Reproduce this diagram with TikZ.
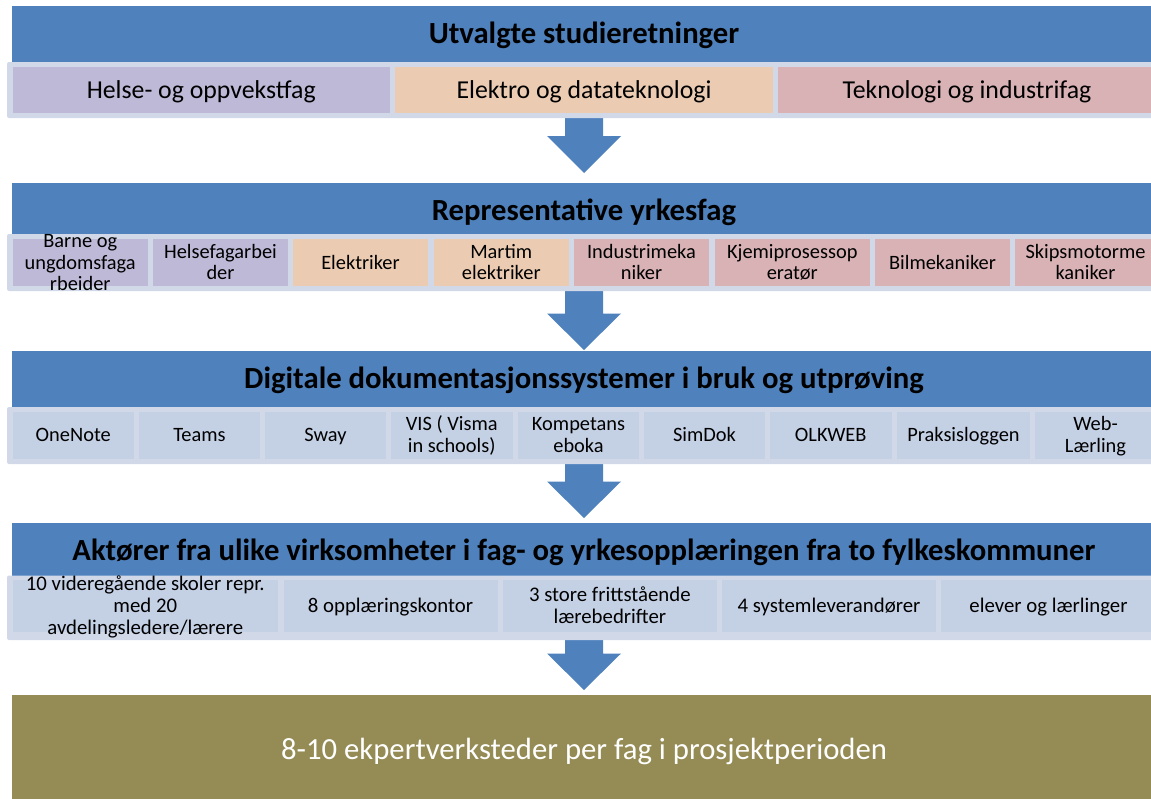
\documentclass[tikz,border=0pt]{standalone}
\usepackage{fontspec}
\setmainfont{Carlito}
\usetikzlibrary{calc}

\definecolor{hdrblue}{HTML}{4F81BD}
\definecolor{stripbg}{HTML}{D1D9E9}
\definecolor{lav}{HTML}{BDB9D7}
\definecolor{peach}{HTML}{EBCCB3}
\definecolor{rose}{HTML}{D8B2B5}
\definecolor{cellblue}{HTML}{C4D0E4}
\definecolor{olive}{HTML}{958B54}

\tikzset{
  blockbase/.style={draw=none, inner sep=0pt, outer sep=0pt},
  header/.style={blockbase, fill=hdrblue},
  strip/.style={blockbase, fill=stripbg, rounded corners=2pt},
  cell/.style={blockbase},
  htext/.style={anchor=base, inner sep=0pt, text=black,
    font=\fontsize{30.7}{36}\selectfont\bfseries},
}

% rectangle node given by its corners: style, name, x1, y1, x2, y2
\newcommand\rectnode[6]{%
  \node[#1, minimum width={(#5-#3)*1pt}, minimum height={(#6-#4)*1pt}]
    (#2) at ({(#3+#5)/2},{(#4+#6)/2}) {};}

% centred label in a cell: node, lines, font size, line skip, text
\newcommand\putlabel[5]{%
  \node[anchor=base, inner sep=0pt, text=black, font=\fontsize{#3}{#4}\selectfont,
        yshift={-(0.322*#3-(#2-1)*#4/2)*1pt}]
    at (#1.center) {\begin{tabular}[t]{@{}c@{}}#5\end{tabular}};}

% block arrow from a strip down to the next block: strip, next block, gap, head length
\newcommand\flowarrow[4]{%
  \coordinate (tip-#2) at ($(#2.north)+(0,-#3)$);
  \coordinate (top-#2) at ($(#2.north |- #1.south)+(0,-4)$);
  \fill[hdrblue] ($(top-#2)+(-19,0)$) -- ($(top-#2)+(19,0)$)
    -- ($(tip-#2)+(19,-#4)$) -- ($(tip-#2)+(37,-#4)$) -- (tip-#2)
    -- ($(tip-#2)+(-37,-#4)$) -- ($(tip-#2)+(-19,-#4)$) -- cycle;}

\begin{document}
\begin{tikzpicture}[x=1pt, y=-1pt]
\useasboundingbox (0,0) rectangle (1151,798);
\clip (0,0) rectangle (1151,798);
\fill[white] (0,0) rectangle (1151,798);

% headers and the final block
\rectnode{header}{h1}{12}{5.7}{1156}{62}
\rectnode{header}{h2}{12}{183}{1156}{234}
\rectnode{header}{h3}{12}{351}{1156}{407}
\rectnode{header}{h4}{12}{523}{1156}{575.5}
\rectnode{blockbase, fill=olive}{ob}{12}{695}{1156}{803}

% strip outlines (filled after the arrows are drawn)
\rectnode{strip, fill=none}{s1}{7}{62}{1160}{118}
\rectnode{strip, fill=none}{s2}{7}{234}{1160}{291}
\rectnode{strip, fill=none}{s3}{7}{407}{1160}{464}
\rectnode{strip, fill=none}{s4}{7}{575.5}{1160}{640}

% arrows between the stages
\flowarrow{s1}{h2}{10}{37}
\flowarrow{s2}{h3}{1}{36.5}
\flowarrow{s3}{h4}{5}{36.5}
\flowarrow{s4}{ob}{5}{36.5}

% light strips behind the cells
\fill[stripbg, rounded corners=2pt] (s1.north west) rectangle (s1.south east);
\fill[stripbg, rounded corners=2pt] (s2.north west) rectangle (s2.south east);
\fill[stripbg, rounded corners=2pt] (s3.north west) rectangle (s3.south east);
\fill[stripbg, rounded corners=2pt] (s4.north west) rectangle (s4.south east);

% row 1: study programmes
\rectnode{cell, fill=lav}{a1}{12.5}{67}{390}{113}
\rectnode{cell, fill=peach}{a2}{395}{67}{773}{113}
\rectnode{cell, fill=rose}{a3}{778}{67}{1156}{113}

% row 2: trades
\rectnode{cell, fill=lav}{b1}{12.5}{239}{148}{286}
\rectnode{cell, fill=lav}{b2}{153}{239}{288}{286}
\rectnode{cell, fill=peach}{b3}{293}{239}{428}{286}
\rectnode{cell, fill=peach}{b4}{433.5}{239}{569}{286}
\rectnode{cell, fill=rose}{b5}{574}{239}{709}{286}
\rectnode{cell, fill=rose}{b6}{714.5}{239}{870}{286}
\rectnode{cell, fill=rose}{b7}{875}{239}{1010}{286}
\rectnode{cell, fill=rose}{b8}{1015}{239}{1156}{286}

% row 3: documentation systems
\rectnode{cell, fill=cellblue}{c1}{12.5}{411.7}{134}{459}
\rectnode{cell, fill=cellblue}{c2}{139}{411.7}{260}{459}
\rectnode{cell, fill=cellblue}{c3}{265}{411.7}{386}{459}
\rectnode{cell, fill=cellblue}{c4}{391}{411.7}{512.5}{459}
\rectnode{cell, fill=cellblue}{c5}{518}{411.7}{639}{459}
\rectnode{cell, fill=cellblue}{c6}{644}{411.7}{765}{459}
\rectnode{cell, fill=cellblue}{c7}{770}{411.7}{891.5}{459}
\rectnode{cell, fill=cellblue}{c8}{897}{411.7}{1030}{459}
\rectnode{cell, fill=cellblue}{c9}{1035}{411.7}{1156}{459}

% row 4: participants
\rectnode{cell, fill=cellblue}{d1}{12.5}{580}{278}{631.7}
\rectnode{cell, fill=cellblue}{d2}{283.5}{580}{497.5}{631.7}
\rectnode{cell, fill=cellblue}{d3}{503}{580}{716.7}{631.7}
\rectnode{cell, fill=cellblue}{d4}{722}{580}{936}{631.7}
\rectnode{cell, fill=cellblue}{d5}{941}{580}{1156}{631.7}

% header titles
\node[htext, yshift=-9.6pt] at (h1.center) {Utvalgte studieretninger};
\node[htext, yshift=-12.2pt] at (h2.center) {Representative yrkesfag};
\node[htext, yshift=-9.5pt] at (h3.center) {Digitale dokumentasjonssystemer i bruk og utprøving};
\node[htext, yshift=-11.6pt] at (h4.center) {Aktører fra ulike virksomheter i fag- og yrkesopplæringen fra to fylkeskommuner};

% row texts
\putlabel{a1}{1}{25.8}{30}{Helse- og oppvekstfag}
\putlabel{a2}{1}{25.8}{30}{Elektro og datateknologi}
\putlabel{a3}{1}{25.8}{30}{Teknologi og industrifag}

\putlabel{b1}{3}{20.4}{21.7}{Barne og\\ungdomsfaga\\rbeider}
\putlabel{b2}{2}{20.4}{21.7}{Helsefagarbei\\der}
\putlabel{b3}{1}{20.4}{21.7}{Elektriker}
\putlabel{b4}{2}{20.4}{21.7}{Martim\\elektriker}
\putlabel{b5}{2}{20.4}{21.7}{Industrimeka\\niker}
\putlabel{b6}{2}{20.4}{21.7}{Kjemiprosessop\\eratør}
\putlabel{b7}{1}{20.4}{21.7}{Bilmekaniker}
\putlabel{b8}{2}{20.4}{21.7}{Skipsmotorme\\kaniker}

\putlabel{c1}{1}{20.4}{22}{OneNote}
\putlabel{c2}{1}{20.4}{22}{Teams}
\putlabel{c3}{1}{20.4}{22}{Sway}
\putlabel{c4}{2}{20.4}{22}{VIS ( Visma\\in schools)}
\putlabel{c5}{2}{20.4}{22}{Kompetans\\eboka}
\putlabel{c6}{1}{20.4}{22}{SimDok}
\putlabel{c7}{1}{20.4}{22}{OLKWEB}
\putlabel{c8}{1}{20.4}{22}{Praksisloggen}
\putlabel{c9}{2}{20.4}{22}{Web-\\Lærling}

\putlabel{d1}{3}{20.8}{22.2}{10 videregående skoler repr.\\med 20\\avdelingsledere/lærere}
\putlabel{d2}{1}{20.8}{22.2}{8 opplæringskontor}
\putlabel{d3}{2}{20.8}{22.2}{3 store frittstående\\lærebedrifter}
\putlabel{d4}{1}{20.8}{22.2}{4 systemleverandører}
\putlabel{d5}{1}{20.8}{22.2}{elever og lærlinger}

% final block text
\node[anchor=base, inner sep=0pt, text=white, font=\fontsize{30.7}{36}\selectfont]
  at ($(ob.north)+(0,64)$) {8-10 ekpertverksteder per fag i prosjektperioden};
\end{tikzpicture}
\end{document}
